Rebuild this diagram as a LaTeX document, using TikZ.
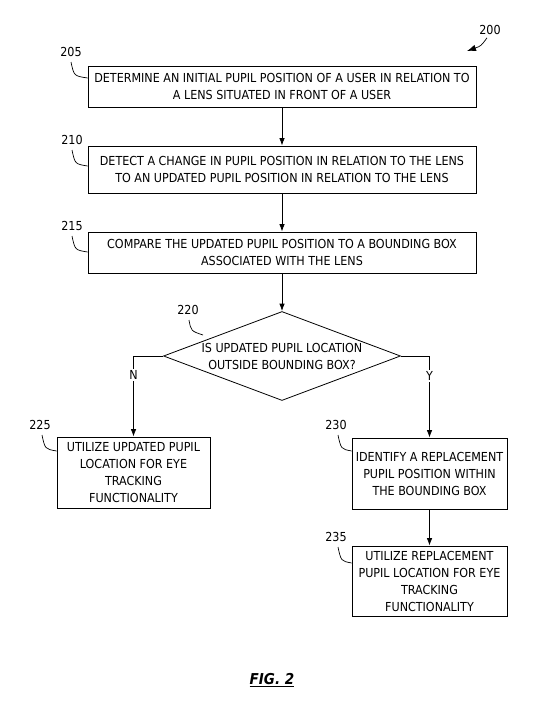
\documentclass[tikz,border=0pt]{standalone}
\usepackage{fontspec}
\setmainfont{DejaVu Sans Condensed}
\usetikzlibrary{arrows.meta,shapes.geometric}
\begin{document}
\begin{tikzpicture}[x=1pt,y=-1pt,
  every node/.style={font=\fontsize{12.4}{17}\selectfont},
  procbox/.style={draw,line width=0.8pt,align=center,inner sep=0pt},
  decision/.style={draw,line width=0.8pt,diamond,aspect=2.65,align=center,inner sep=0pt},
  flow/.style={line width=0.8pt,-{Latex[length=7.5pt,width=5.5pt]}},
  leader/.style={line width=0.7pt},
  reflabel/.style={inner sep=0pt},
  branch/.style={fill=white,inner sep=1.5pt}]
\useasboundingbox (0,0) rectangle (554,717);

% process steps
\node[procbox,minimum width=388pt,minimum height=41pt] (s205) at (282,86.5)
  {DETERMINE AN INITIAL PUPIL POSITION OF A USER IN RELATION TO\\A LENS SITUATED IN FRONT OF A USER};
\node[procbox,minimum width=388pt,minimum height=47pt] (s210) at (282,169.5)
  {DETECT A CHANGE IN PUPIL POSITION IN RELATION TO THE LENS\\TO AN UPDATED PUPIL POSITION IN RELATION TO THE LENS};
\node[procbox,minimum width=388pt,minimum height=41pt] (s215) at (282,252.5)
  {COMPARE THE UPDATED PUPIL POSITION TO A BOUNDING BOX\\ASSOCIATED WITH THE LENS};
\node[decision,minimum width=237pt,minimum height=89pt] (s220) at (282,356)
  {IS UPDATED PUPIL LOCATION\\OUTSIDE BOUNDING BOX?};
\node[procbox,minimum width=153pt,minimum height=71pt] (s225) at (133.5,472.5)
  {UTILIZE UPDATED PUPIL\\LOCATION FOR EYE\\TRACKING\\FUNCTIONALITY};
\node[procbox,minimum width=155pt,minimum height=71pt] (s230) at (429.5,473.5)
  {IDENTIFY A REPLACEMENT\\PUPIL POSITION WITHIN\\THE BOUNDING BOX};
\node[procbox,minimum width=155pt,minimum height=70pt] (s235) at (429.5,581)
  {UTILIZE REPLACEMENT\\PUPIL LOCATION FOR EYE\\TRACKING\\FUNCTIONALITY};

% connectors
\draw[flow] (s205) -- (s210);
\draw[flow] (s210) -- (s215);
\draw[flow] (s215) -- (s220);
\draw[flow] (s220.west) -| node[branch,pos=0.62]{N} (s225.north);
\draw[flow] (s220.east) -| node[branch,pos=0.62]{Y} (s230.north);
\draw[flow] (s230) -- (s235);

% reference numerals
\node[reflabel] (r200) at (490,30) {200};
\coordinate (a200) at (467,51);
\draw[leader,-{Latex[length=9pt,width=6.5pt]}] (r200.south) ++(-3,3) .. controls (481,46) .. (a200);

\node[reflabel] (r205) at (71,52) {205};
\draw[leader] (71,62) .. controls (74,76) .. (s205.west |- 0,78);
\node[reflabel] (r210) at (72,140) {210};
\draw[leader] (72,150) .. controls (75,164) .. (s210.west |- 0,166);
\node[reflabel] (r215) at (72,226) {215};
\draw[leader] (72,236) .. controls (75,250) .. (s215.west |- 0,252);
\node[reflabel] (r220) at (188,310) {220};
\draw[leader] (189,320) .. controls (191,331) .. (203,335);
\node[reflabel] (r225) at (40,425) {225};
\draw[leader] (42,435) .. controls (45,449) .. (s225.west |- 0,451);
\node[reflabel] (r230) at (336,425) {230};
\draw[leader] (338,435) .. controls (341,449) .. (s230.west |- 0,451);
\node[reflabel] (r235) at (336,537) {235};
\draw[leader] (338,547) .. controls (341,561) .. (s235.west |- 0,563);

% figure caption
\node (fig) at (272,680) {\fontsize{15}{17}\selectfont\bfseries\itshape\underline{FIG. 2}};
\end{tikzpicture}
\end{document}
